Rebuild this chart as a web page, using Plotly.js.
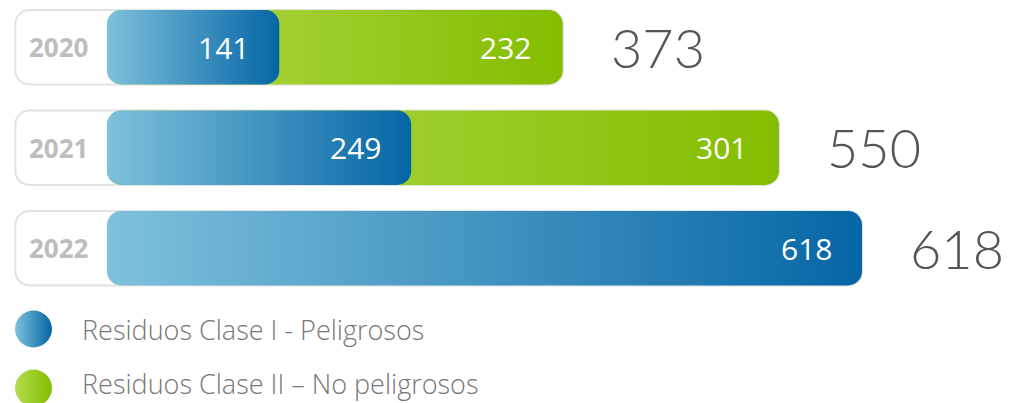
<!DOCTYPE html>
<html><head><meta charset="utf-8">
<script src="https://cdn.plot.ly/plotly-3.0.1.min.js"></script>
<style>html,body{margin:0;padding:0;background:#fff}#chart{width:1009px;height:403px}</style>
</head><body><div id="chart"></div>
<script>
const years = ['2020', '2021', '2022'];
const claseI = [141, 249, 618];
const claseII = [232, 301, 0];
const totals = [373, 550, 618];
const seriesNames = ['Residuos Clase I - Peligrosos', 'Residuos Clase II – No peligrosos'];

const labelBase = -75;
const W = 1009, H = 403;

const traces = [
  {type: 'bar', orientation: 'h', y: years, x: totals.map(t => t - labelBase), base: labelBase,
   width: 0.74, marker: {color: '#ffffff', line: {color: '#e2e2e2', width: 2}, cornerradius: 14},
   hoverinfo: 'skip', showlegend: false},
  {type: 'bar', orientation: 'h', y: years, x: totals.map((t, i) => claseII[i] > 0 ? t : 0), base: 0,
   width: 0.74, marker: {color: '#9fcf2a', cornerradius: 14}, name: seriesNames[1], showlegend: false},
  {type: 'bar', orientation: 'h', y: years, x: claseI, base: 0,
   width: 0.74, marker: {color: '#3d94c2', cornerradius: 14}, name: seriesNames[0], showlegend: false}
];

const valFont = {family: 'Open Sans, sans-serif', size: 30, color: '#ffffff'};
const annotations = [];
years.forEach((y, i) => {
  annotations.push({x: labelBase, y: i, xref: 'x', yref: 'y', text: '<b>' + y + '</b>', showarrow: false,
    xanchor: 'left', xshift: 12, font: {family: 'Open Sans, sans-serif', size: 26, color: '#bdbdbd'}});
  annotations.push({x: claseI[i], y: i, xref: 'x', yref: 'y', text: String(claseI[i]), showarrow: false,
    xanchor: 'right', xshift: -28, font: valFont});
  if (claseII[i] > 0) {
    annotations.push({x: totals[i], y: i, xref: 'x', yref: 'y', text: String(claseII[i]), showarrow: false,
      xanchor: 'right', xshift: -30, font: valFont});
  }
  annotations.push({x: totals[i], y: i, xref: 'x', yref: 'y', text: String(totals[i]), showarrow: false,
    xanchor: 'left', xshift: 46, font: {family: 'Lato, sans-serif', size: 54, color: '#555555', weight: 300}});
});
const legY = [329, 383];
seriesNames.forEach((n, i) => {
  annotations.push({x: 80 / W, y: 1 - legY[i] / H, xref: 'paper', yref: 'paper', text: n, showarrow: false,
    xanchor: 'left', yanchor: 'middle', font: {family: 'Open Sans, sans-serif', size: 27, color: '#777777', weight: 300}});
});
const circY = [329, 388];
const shapes = circY.map(c => ({type: 'circle', xref: 'paper', yref: 'paper',
  x0: 15 / W, x1: 52 / W, y0: 1 - (c + 18.5) / H, y1: 1 - (c - 18.5) / H,
  fillcolor: '#3d94c2', line: {width: 0}, layer: 'above'}));

const xmin = -107 * 618 / 755, xmax = (W - 107) * 618 / 755;
const layout = {
  width: W, height: H, margin: {l: 0, r: 0, t: 0, b: 0},
  paper_bgcolor: '#ffffff', plot_bgcolor: '#ffffff',
  barmode: 'overlay', showlegend: false,
  xaxis: {range: [xmin, xmax], visible: false, fixedrange: true},
  yaxis: {type: 'category', range: [2.5, -0.47], domain: [1 - 298.5 / H, 1], visible: false, fixedrange: true},
  annotations: annotations, shapes: shapes
};

const gd = document.getElementById('chart');
Plotly.newPlot(gd, traces, layout, {displayModeBar: false, staticPlot: true}).then(() => {
  const NS = 'http://www.w3.org/2000/svg';
  const defs = gd.querySelector('.main-svg defs');
  function grad(id, c1, c2) {
    const g = document.createElementNS(NS, 'linearGradient');
    g.setAttribute('id', id); g.setAttribute('x1', '0'); g.setAttribute('x2', '1');
    g.setAttribute('y1', '0'); g.setAttribute('y2', '0');
    [[0, c1], [1, c2]].forEach(([o, c]) => {
      const s = document.createElementNS(NS, 'stop');
      s.setAttribute('offset', o); s.setAttribute('stop-color', c); g.appendChild(s);
    });
    defs.appendChild(g);
  }
  grad('gBlue', '#7ec1dc', '#0566a5');
  grad('gGreen', '#b4db4f', '#84bd00');
  const tr = gd.querySelectorAll('.barlayer .trace');
  tr[1].querySelectorAll('path').forEach(p => p.style.fill = 'url(#gGreen)');
  tr[2].querySelectorAll('path').forEach(p => p.style.fill = 'url(#gBlue)');
  const sp = gd.querySelectorAll('.shapelayer path');
  if (sp[0]) sp[0].style.fill = 'url(#gBlue)';
  if (sp[1]) sp[1].style.fill = 'url(#gGreen)';
});
</script></body></html>
